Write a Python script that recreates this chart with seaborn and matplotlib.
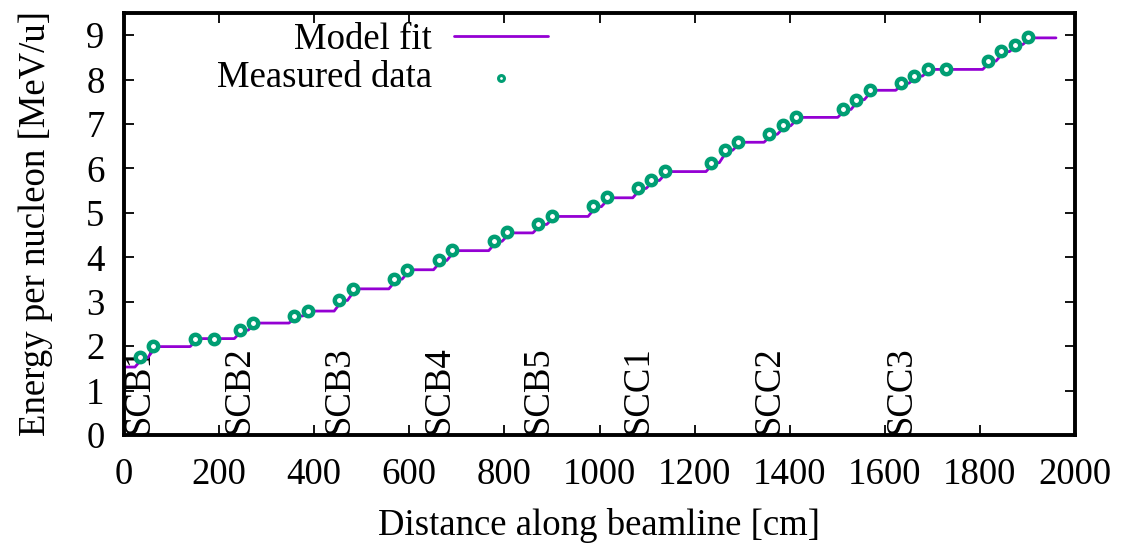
import matplotlib
matplotlib.use("Agg")
import matplotlib.pyplot as plt
import seaborn as sns
import pandas as pd

# Measured data (distance [cm], energy per nucleon [MeV/u])
meas_x = [34, 61, 150, 189, 243, 272, 358, 387, 453, 481, 568, 596, 662, 690,
          778, 806, 871, 900, 987, 1015, 1081, 1109, 1137, 1235, 1263, 1291,
          1357, 1385, 1413, 1512, 1540, 1568, 1634, 1662, 1690, 1729, 1817,
          1845, 1873, 1901]
meas_y = [1.76, 2.00, 2.17, 2.17, 2.36, 2.52, 2.68, 2.79, 3.03, 3.29, 3.51,
          3.72, 3.93, 4.16, 4.36, 4.57, 4.75, 4.93, 5.15, 5.35, 5.56, 5.74,
          5.94, 6.13, 6.42, 6.60, 6.77, 6.97, 7.16, 7.34, 7.55, 7.77, 7.92,
          8.09, 8.24, 8.24, 8.42, 8.64, 8.79, 8.95]

# Model fit vertices
model_x = [5, 23, 40, 50, 67, 139, 156, 232, 249, 261, 278, 347, 364, 376, 393,
           442, 459, 470, 487, 557, 574, 585, 602, 651, 668, 679, 696, 767, 784,
           795, 812, 860, 877, 889, 906, 976, 993, 1004, 1021, 1070, 1087, 1098,
           1115, 1126, 1143, 1224, 1241, 1252, 1269, 1280, 1297, 1346, 1363,
           1374, 1391, 1402, 1419, 1501, 1518, 1529, 1546, 1557, 1574, 1623,
           1640, 1651, 1668, 1679, 1696, 1806, 1823, 1834, 1851, 1862, 1879,
           1890, 1907, 1960]
model_y = [1.53, 1.53, 1.74, 1.74, 1.99, 1.99, 2.17, 2.17, 2.36, 2.36, 2.52,
           2.52, 2.68, 2.68, 2.79, 2.79, 3.03, 3.03, 3.29, 3.29, 3.51, 3.51,
           3.72, 3.72, 3.93, 3.93, 4.15, 4.15, 4.36, 4.36, 4.55, 4.55, 4.74,
           4.74, 4.92, 4.92, 5.14, 5.14, 5.34, 5.34, 5.55, 5.55, 5.73, 5.73,
           5.93, 5.93, 6.13, 6.13, 6.41, 6.41, 6.59, 6.59, 6.77, 6.77, 6.96,
           6.96, 7.15, 7.15, 7.33, 7.33, 7.55, 7.55, 7.76, 7.76, 7.92, 7.92,
           8.08, 8.08, 8.23, 8.23, 8.42, 8.42, 8.63, 8.63, 8.79, 8.79, 8.94,
           8.94]

# Cryomodule labels
module_names = ["SCB1", "SCB2", "SCB3", "SCB4", "SCB5", "SCC1", "SCC2", "SCC3"]
module_x = [33, 243, 452, 662, 871, 1081, 1356, 1634]

x_ticks = [0, 200, 400, 600, 800, 1000, 1200, 1400, 1600, 1800, 2000]
y_ticks = [0, 1, 2, 3, 4, 5, 6, 7, 8, 9]

sns.set_theme(style="ticks")
plt.rcParams["font.family"] = ["Liberation Serif", "DejaVu Serif"]
plt.rcParams["text.color"] = "black"
plt.rcParams["axes.labelcolor"] = "black"
plt.rcParams["xtick.color"] = "black"
plt.rcParams["ytick.color"] = "black"

FS = 26.5
LINE_COLOR = "#9400d3"
PT_COLOR = "#009e73"

fig = plt.figure(figsize=(11.22, 5.48), dpi=100)
ax = fig.add_axes([124 / 1122, 1 - 435 / 548, (1075 - 124) / 1122, (435 - 13) / 548])

model_df = pd.DataFrame({"x": model_x, "y": model_y})
meas_df = pd.DataFrame({"x": meas_x, "y": meas_y})

sns.lineplot(data=model_df, x="x", y="y", sort=False, estimator=None, ax=ax,
             color=LINE_COLOR, linewidth=2.0, label="Model fit", zorder=2)
sns.scatterplot(data=meas_df, x="x", y="y", ax=ax, marker="o", s=46,
                facecolor="white", edgecolor=PT_COLOR, linewidth=3.2,
                label="Measured data", zorder=3)

for name, xm in zip(module_names, module_x):
    ax.text(xm, 0.03, name, rotation=90, ha="center", va="bottom",
            fontsize=FS, color="black", zorder=1)

ax.set_xlim(0, 2000)
ax.set_ylim(0, 9.5)
ax.set_xticks(x_ticks)
ax.set_yticks(y_ticks)
ax.set_xlabel("Distance along beamline [cm]", fontsize=FS, labelpad=12, color="black")
ax.set_ylabel("Energy per nucleon [MeV/u]", fontsize=FS, labelpad=24, color="black")

for s in ax.spines.values():
    s.set_visible(True)
    s.set_linewidth(2.8)
    s.set_color("black")

ax.tick_params(axis="both", which="major", direction="in", length=7, width=1.3,
               labelsize=FS, top=True, right=True, colors="black")
ax.tick_params(axis="x", pad=16)
ax.tick_params(axis="y", pad=14)
ax.grid(False)

leg = ax.legend(loc="upper left", bbox_to_anchor=(0.082, 1.012), frameon=False,
                fontsize=FS, markerfirst=False, handlelength=2.55,
                handletextpad=0.6, labelspacing=0.1, borderaxespad=0)
for t in leg.get_texts():
    t.set_color("black")
for h in leg.legend_handles:
    try:
        h.set_sizes([18])
        h.set_linewidth(2.2)
    except Exception:
        pass

fig.savefig("out.png", dpi=100)
